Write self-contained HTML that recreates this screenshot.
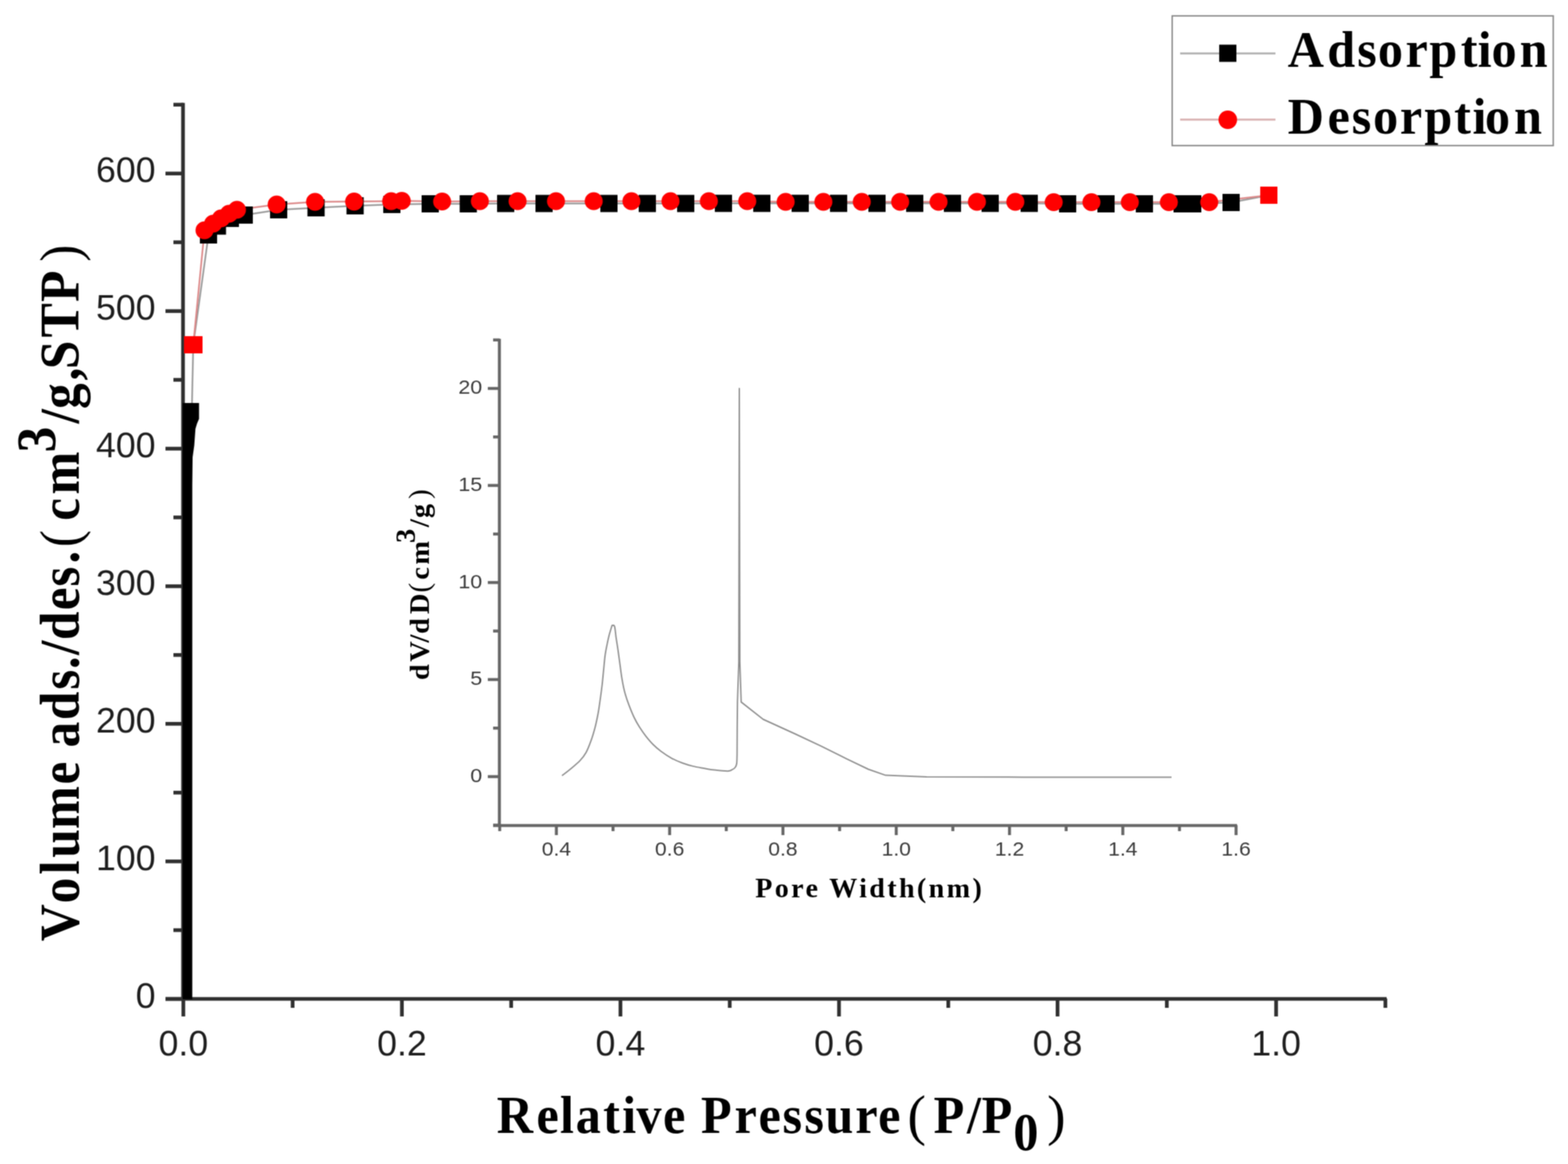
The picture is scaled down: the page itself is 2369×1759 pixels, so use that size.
<!DOCTYPE html>
<html><head><meta charset="utf-8"><title>Adsorption isotherm</title>
<style>html,body{margin:0;padding:0;background:#fff;}svg{display:block;}#wrap{width:2369px;height:1759px;overflow:hidden;}</style></head>
<body>
<div id="wrap">
<svg width="2369" height="1759" viewBox="0 0 2369 1759">
<defs><filter id="soft" filterUnits="userSpaceOnUse" x="0" y="0" width="2369" height="1759" color-interpolation-filters="sRGB"><feConvolveMatrix order="3" kernelMatrix="1 2 1 2 4 2 1 2 1" divisor="16" edgeMode="duplicate"/></filter></defs>
<g filter="url(#soft)">
<rect width="2369" height="1759" fill="#ffffff"/>
<g stroke="#303030" stroke-width="5.6" fill="none" stroke-linecap="butt">
<line x1="276.5" y1="155.5" x2="276.5" y2="1512"/>
<line x1="250" y1="1509.5" x2="2095" y2="1509.5"/>
<line x1="250" y1="1509.6" x2="277" y2="1509.6"/>
<line x1="262" y1="1405.6" x2="277" y2="1405.6"/>
<line x1="250" y1="1301.7" x2="277" y2="1301.7"/>
<line x1="262" y1="1197.8" x2="277" y2="1197.8"/>
<line x1="250" y1="1093.8" x2="277" y2="1093.8"/>
<line x1="262" y1="989.8" x2="277" y2="989.8"/>
<line x1="250" y1="885.9" x2="277" y2="885.9"/>
<line x1="262" y1="781.9" x2="277" y2="781.9"/>
<line x1="250" y1="678.0" x2="277" y2="678.0"/>
<line x1="262" y1="574.0" x2="277" y2="574.0"/>
<line x1="250" y1="470.1" x2="277" y2="470.1"/>
<line x1="262" y1="366.1" x2="277" y2="366.1"/>
<line x1="250" y1="262.2" x2="277" y2="262.2"/>
<line x1="262" y1="158.2" x2="277" y2="158.2"/>
<line x1="277.0" y1="1509" x2="277.0" y2="1536"/>
<line x1="442.1" y1="1509" x2="442.1" y2="1523"/>
<line x1="607.2" y1="1509" x2="607.2" y2="1536"/>
<line x1="772.3" y1="1509" x2="772.3" y2="1523"/>
<line x1="937.4" y1="1509" x2="937.4" y2="1536"/>
<line x1="1102.5" y1="1509" x2="1102.5" y2="1523"/>
<line x1="1267.6" y1="1509" x2="1267.6" y2="1536"/>
<line x1="1432.7" y1="1509" x2="1432.7" y2="1523"/>
<line x1="1597.8" y1="1509" x2="1597.8" y2="1536"/>
<line x1="1762.9" y1="1509" x2="1762.9" y2="1523"/>
<line x1="1928.0" y1="1509" x2="1928.0" y2="1536"/>
<line x1="2093.1" y1="1509" x2="2093.1" y2="1523"/>
</g>
<g font-family="Liberation Sans, Arial, sans-serif" font-size="54" fill="#1e1e1e">
<text x="235" y="1522.8" text-anchor="end">0</text>
<text x="235" y="1314.9" text-anchor="end">100</text>
<text x="235" y="1107.0" text-anchor="end">200</text>
<text x="235" y="899.1" text-anchor="end">300</text>
<text x="235" y="691.2" text-anchor="end">400</text>
<text x="235" y="483.3" text-anchor="end">500</text>
<text x="235" y="275.4" text-anchor="end">600</text>
<text x="277.0" y="1595" text-anchor="middle">0.0</text>
<text x="607.2" y="1595" text-anchor="middle">0.2</text>
<text x="937.4" y="1595" text-anchor="middle">0.4</text>
<text x="1267.6" y="1595" text-anchor="middle">0.6</text>
<text x="1597.8" y="1595" text-anchor="middle">0.8</text>
<text x="1928.0" y="1595" text-anchor="middle">1.0</text>
</g>
<g stroke="#666666" stroke-width="4.5" fill="none">
<line x1="754.5" y1="512" x2="754.5" y2="1249"/>
<line x1="745" y1="1247.5" x2="1869" y2="1247.5"/>
<line x1="745" y1="1246.9" x2="755" y2="1246.9"/>
<line x1="737" y1="1173.6" x2="755" y2="1173.6"/>
<line x1="745" y1="1100.3" x2="755" y2="1100.3"/>
<line x1="737" y1="1026.9" x2="755" y2="1026.9"/>
<line x1="745" y1="953.6" x2="755" y2="953.6"/>
<line x1="737" y1="880.3" x2="755" y2="880.3"/>
<line x1="745" y1="807.0" x2="755" y2="807.0"/>
<line x1="737" y1="733.6" x2="755" y2="733.6"/>
<line x1="745" y1="660.3" x2="755" y2="660.3"/>
<line x1="737" y1="587.0" x2="755" y2="587.0"/>
<line x1="745" y1="513.7" x2="755" y2="513.7"/>
<line x1="755.0" y1="1247" x2="755.0" y2="1256"/>
<line x1="840.6" y1="1247" x2="840.6" y2="1262"/>
<line x1="926.2" y1="1247" x2="926.2" y2="1256"/>
<line x1="1011.7" y1="1247" x2="1011.7" y2="1262"/>
<line x1="1097.3" y1="1247" x2="1097.3" y2="1256"/>
<line x1="1182.9" y1="1247" x2="1182.9" y2="1262"/>
<line x1="1268.5" y1="1247" x2="1268.5" y2="1256"/>
<line x1="1354.1" y1="1247" x2="1354.1" y2="1262"/>
<line x1="1439.6" y1="1247" x2="1439.6" y2="1256"/>
<line x1="1525.2" y1="1247" x2="1525.2" y2="1262"/>
<line x1="1610.8" y1="1247" x2="1610.8" y2="1256"/>
<line x1="1696.4" y1="1247" x2="1696.4" y2="1262"/>
<line x1="1782.0" y1="1247" x2="1782.0" y2="1256"/>
<line x1="1867.5" y1="1247" x2="1867.5" y2="1262"/>
</g>
<g font-family="Liberation Sans, Arial, sans-serif" font-size="29.5" fill="#3c3c3c">
<text transform="translate(728.5,1181.9) scale(1.1,1)" text-anchor="end">0</text>
<text transform="translate(728.5,1035.2) scale(1.1,1)" text-anchor="end">5</text>
<text transform="translate(728.5,888.6) scale(1.1,1)" text-anchor="end">10</text>
<text transform="translate(728.5,741.9) scale(1.1,1)" text-anchor="end">15</text>
<text transform="translate(728.5,595.3) scale(1.1,1)" text-anchor="end">20</text>
<text transform="translate(840.6,1293.3) scale(1.08,1)" text-anchor="middle">0.4</text>
<text transform="translate(1011.7,1293.3) scale(1.08,1)" text-anchor="middle">0.6</text>
<text transform="translate(1182.9,1293.3) scale(1.08,1)" text-anchor="middle">0.8</text>
<text transform="translate(1354.1,1293.3) scale(1.08,1)" text-anchor="middle">1.0</text>
<text transform="translate(1525.2,1293.3) scale(1.08,1)" text-anchor="middle">1.2</text>
<text transform="translate(1696.4,1293.3) scale(1.08,1)" text-anchor="middle">1.4</text>
<text transform="translate(1867.5,1293.3) scale(1.08,1)" text-anchor="middle">1.6</text>
</g>
<path d="M849.1,1172.1 C851.4,1170.3 858.2,1165.3 862.7,1161.5 C867.2,1157.7 872.5,1153.4 876.3,1149.4 C880.1,1145.4 882.6,1142.3 885.4,1137.3 C888.2,1132.3 890.7,1125.5 893.0,1119.2 C895.3,1112.9 897.2,1106.3 899.0,1099.5 C900.8,1092.7 902.3,1085.1 903.6,1078.3 C904.9,1071.5 905.6,1065.6 906.6,1058.6 C907.6,1051.5 908.7,1043.6 909.6,1036.0 C910.5,1028.4 911.1,1020.8 911.9,1013.2 C912.7,1005.6 913.3,997.0 914.2,990.5 C915.1,984.0 916.2,978.9 917.2,973.9 C918.2,968.9 919.0,965.1 920.2,960.3 C921.5,955.5 924.0,947.6 924.7,945.1 C925.3,945.4 927.5,943.6 928.5,946.6 C929.5,949.6 929.9,957.2 930.8,963.3 C931.7,969.4 932.8,975.9 933.8,983.0 C934.8,990.1 935.9,998.4 936.9,1005.7 C937.9,1013.0 938.6,1019.9 939.9,1026.9 C941.1,1034.0 942.6,1041.5 944.4,1048.0 C946.2,1054.5 948.2,1060.2 950.5,1066.2 C952.8,1072.2 955.5,1078.9 958.1,1084.3 C960.7,1089.7 963.2,1094.1 966.2,1098.8 C969.2,1103.5 972.5,1108.3 975.9,1112.6 C979.3,1116.9 982.6,1120.9 986.4,1124.7 C990.2,1128.5 993.8,1131.7 998.5,1135.2 C1003.2,1138.7 1009.3,1142.8 1014.7,1145.8 C1020.1,1148.8 1025.5,1151.0 1030.9,1153.0 C1036.3,1155.0 1041.7,1156.6 1047.1,1157.9 C1052.5,1159.2 1057.9,1160.1 1063.3,1161.1 C1068.7,1162.0 1073.3,1162.9 1079.4,1163.6 C1085.5,1164.3 1095.3,1165.3 1099.7,1165.2 C1104.1,1165.1 1104.2,1164.1 1106.0,1163.2 C1107.8,1162.3 1109.3,1161.5 1110.5,1160.0 C1111.7,1158.5 1112.5,1157.3 1113.0,1154.0 C1113.5,1150.7 1113.5,1142.3 1113.6,1140.0 L1113.8,1100.5 L1114.2,1060 L1116.2,1000 L1117,587 L1117.8,1000 L1119.8,1060.9 L1153,1087 L1201.2,1109 L1240.3,1127.3 L1279.4,1146.9 L1312,1162.5 L1338.1,1171.6 L1400,1174.1 L1545,1174.4 L1770,1174.4" stroke="#8a8a8a" stroke-width="2" fill="none" stroke-linejoin="round"/>
<polyline points="290,612 292,521 315,355 328.5,341.6 348,330 369,325 421,317 477.5,314 536.5,311 592,309 650,308 707.5,308 764,307.5 822,307.5 920,307.5 978,307.5 1036,307.5 1093,307.3 1151,307.3 1209,307.3 1267,307.3 1325,307.3 1382,307.3 1439,307.3 1496,307.3 1555,307.3 1613,308 1671,308 1729,308 1786,308 1802,308 1860,306 1917,295" stroke="#9a9a9a" stroke-width="2.5" fill="none"/>
<polyline points="1917,295 1827,305.5 1766,305.5 1707,305.5 1649,305.5 1592,305.5 1534,305 1476,305 1418,305 1360,305 1302,305 1244,305 1187,305 1129,304 1071,304 1013,304 954,304 897,304 840,304 782,304 725,304 668,304.5 607,303.5 591,304 535,304.6 476,305 418,309 358,317 346,323 334,330 322,338 309,348 292,521" stroke="#dc8888" stroke-width="2.5" fill="none"/>
<path d="M276,1510 L290.5,1510 L290.5,733 L291,691 L293.5,673 L295.3,648 L297.7,640 L300.7,633 L300.7,609 L276,609 Z" fill="#000"/>
<g fill="#000">
<rect x="302.0" y="342.0" width="26" height="26"/>
<rect x="315.5" y="328.6" width="26" height="26"/>
<rect x="335.0" y="317.0" width="26" height="26"/>
<rect x="356.0" y="312.0" width="26" height="26"/>
<rect x="408.0" y="304.0" width="26" height="26"/>
<rect x="464.5" y="301.0" width="26" height="26"/>
<rect x="523.5" y="298.0" width="26" height="26"/>
<rect x="579.0" y="296.0" width="26" height="26"/>
<rect x="637.0" y="295.0" width="26" height="26"/>
<rect x="694.5" y="295.0" width="26" height="26"/>
<rect x="751.0" y="294.5" width="26" height="26"/>
<rect x="809.0" y="294.5" width="26" height="26"/>
<rect x="907.0" y="294.5" width="26" height="26"/>
<rect x="965.0" y="294.5" width="26" height="26"/>
<rect x="1023.0" y="294.5" width="26" height="26"/>
<rect x="1080.0" y="294.3" width="26" height="26"/>
<rect x="1138.0" y="294.3" width="26" height="26"/>
<rect x="1196.0" y="294.3" width="26" height="26"/>
<rect x="1254.0" y="294.3" width="26" height="26"/>
<rect x="1312.0" y="294.3" width="26" height="26"/>
<rect x="1369.0" y="294.3" width="26" height="26"/>
<rect x="1426.0" y="294.3" width="26" height="26"/>
<rect x="1483.0" y="294.3" width="26" height="26"/>
<rect x="1542.0" y="294.3" width="26" height="26"/>
<rect x="1600.0" y="295.0" width="26" height="26"/>
<rect x="1658.0" y="295.0" width="26" height="26"/>
<rect x="1716.0" y="295.0" width="26" height="26"/>
<rect x="1773.0" y="295.0" width="26" height="26"/>
<rect x="1789.0" y="295.0" width="26" height="26"/>
<rect x="1847.0" y="293.0" width="26" height="26"/>
</g>
<g fill="#ff0000">
<circle cx="1827" cy="305.5" r="13.6"/>
<circle cx="1766" cy="305.5" r="13.6"/>
<circle cx="1707" cy="305.5" r="13.6"/>
<circle cx="1649" cy="305.5" r="13.6"/>
<circle cx="1592" cy="305.5" r="13.6"/>
<circle cx="1534" cy="305" r="13.6"/>
<circle cx="1476" cy="305" r="13.6"/>
<circle cx="1418" cy="305" r="13.6"/>
<circle cx="1360" cy="305" r="13.6"/>
<circle cx="1302" cy="305" r="13.6"/>
<circle cx="1244" cy="305" r="13.6"/>
<circle cx="1187" cy="305" r="13.6"/>
<circle cx="1129" cy="304" r="13.6"/>
<circle cx="1071" cy="304" r="13.6"/>
<circle cx="1013" cy="304" r="13.6"/>
<circle cx="954" cy="304" r="13.6"/>
<circle cx="897" cy="304" r="13.6"/>
<circle cx="840" cy="304" r="13.6"/>
<circle cx="782" cy="304" r="13.6"/>
<circle cx="725" cy="304" r="13.6"/>
<circle cx="668" cy="304.5" r="13.6"/>
<circle cx="607" cy="303.5" r="13.6"/>
<circle cx="591" cy="304" r="13.6"/>
<circle cx="535" cy="304.6" r="13.6"/>
<circle cx="476" cy="305" r="13.6"/>
<circle cx="418" cy="309" r="13.6"/>
<circle cx="358" cy="317" r="13.6"/>
<circle cx="346" cy="323" r="13.6"/>
<circle cx="334" cy="330" r="13.6"/>
<circle cx="322" cy="338" r="13.6"/>
<circle cx="309" cy="348" r="13.6"/>
<rect x="1904" y="282" width="26" height="26"/>
<rect x="278" y="508" width="28" height="26"/>
</g>
<rect x="1771" y="24" width="575.7" height="196" fill="none" stroke="#8c8c8c" stroke-width="2.2" transform="translate(0,0)"/>
<line x1="1783" y1="80.7" x2="1927" y2="80.7" stroke="#b0b0b0" stroke-width="3"/>
<rect x="1842" y="67.5" width="26" height="26" fill="#000"/>
<line x1="1783" y1="180.8" x2="1927" y2="180.8" stroke="#d8b0b0" stroke-width="3"/>
<circle cx="1855" cy="181" r="14" fill="#ff0000"/>
<g font-family="Liberation Serif, Times New Roman, serif" font-weight="bold" font-size="79" fill="#000">
<text transform="translate(0,101.2) scale(0.96,1)" x="2026.5 2088.9 2135.9 2168.5 2212.0 2249.4 2299.0 2325.4 2347.5 2391.8" y="0">Adsorption</text>
<text transform="translate(0,201.8) scale(0.96,1)" x="2026.5 2089.3 2127.3 2160.9 2203.2 2241.6 2288.6 2317.4 2337.0 2382.8" y="0">Desorption</text>
</g>
<g font-family="Liberation Serif, Times New Roman, serif" font-weight="bold" font-size="80" fill="#000">
<text transform="translate(0,1711.6) scale(0.95,1)" x="789.9 853.2 890.5 915.5 959.2 989.4 1012.2 1054.5 1074.5 1114.7 1168.3 1206.3 1244.5 1279.3 1312.6 1360.4 1396.7" y="0">Relative Pressure</text>
<text transform="translate(0,1711.6) scale(0.95,1)" x="1484.8 1537.8 1561.1" y="0">P/P</text>
<text transform="translate(0,1738) scale(0.95,1)" x="1611.7" y="0">0</text>
</g>
<g font-family="Liberation Serif, Times New Roman, serif" font-size="84" fill="#000">
<text x="1371" y="1714">(</text>
<text x="1582" y="1714">)</text>
</g>
<g transform="translate(119,1421.5) rotate(-90) scale(0.92,1)" fill="#000">
<text font-family="Liberation Serif, Times New Roman, serif" font-weight="bold" font-size="84.5" x="-1.0 61.1 108.5 136.2 183.5 256.6 266.6 317.4 362.3 412.2 445.9 469.3 493.8 542.8 581.5 619.4" y="0">Volume ads./des.</text>
<text font-family="Liberation Serif, Times New Roman, serif" font-size="84" x="646.5" y="0">(</text>
<text font-family="Liberation Serif, Times New Roman, serif" font-weight="bold" font-size="84.5" x="689.6 733.0" y="0">cm</text>
<text font-family="Liberation Serif, Times New Roman, serif" font-weight="bold" font-size="84.5" x="801.9" y="-35">3</text>
<text font-family="Liberation Serif, Times New Roman, serif" font-weight="bold" font-size="84.5" x="849.4 873.5 920.2 938.6 990.8 1049.2" y="0">/g,STP</text>
<text font-family="Liberation Serif, Times New Roman, serif" font-size="84" x="1115.3" y="0">)</text>
</g>
<g transform="translate(648.3,1026) rotate(-90)" fill="#000">
<text font-family="Liberation Serif, Times New Roman, serif" font-weight="bold" font-size="43" x="-1.8 26.1 55.1 68.1 98.0" y="0">dV/dD</text>
<text font-family="Liberation Serif, Times New Roman, serif" font-size="44" x="130.5" y="0">(</text>
<text font-family="Liberation Serif, Times New Roman, serif" font-weight="bold" font-size="43" x="150.0 172.7" y="0">cm</text>
<text font-family="Liberation Serif, Times New Roman, serif" font-weight="bold" font-size="43" x="205.6" y="-21">3</text>
<text font-family="Liberation Serif, Times New Roman, serif" font-weight="bold" font-size="43" x="229.5 243.0" y="0">/g</text>
<text font-family="Liberation Serif, Times New Roman, serif" font-size="44" x="272.0" y="0">)</text>
</g>
<text x="1141" y="1355.5" font-family="Liberation Serif, Times New Roman, serif" font-weight="bold" font-size="42.5" fill="#000" textLength="342.3" lengthAdjust="spacing">Pore Width(nm)</text>
</g>
</svg>
</div>
</body></html>
